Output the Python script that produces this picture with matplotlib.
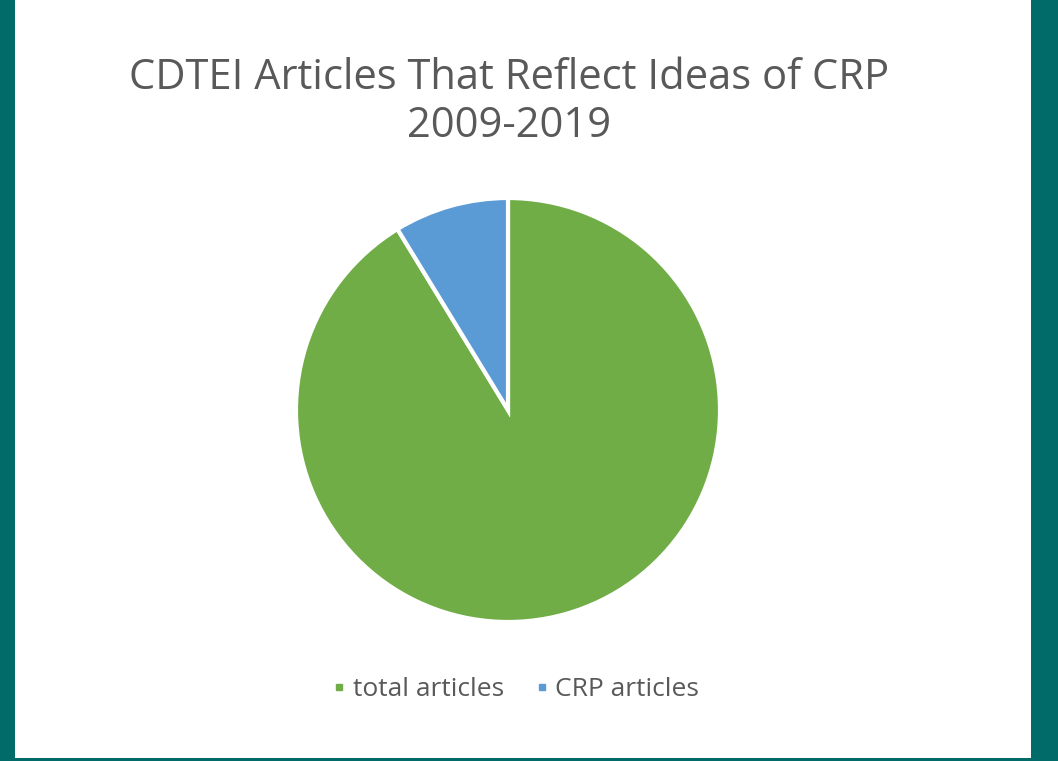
import matplotlib
matplotlib.use("Agg")
import matplotlib.pyplot as plt
import matplotlib.patches as patches
from matplotlib.lines import Line2D

# chart data
labels = ["total articles", "CRP articles"]
counts = [230, 22]
colors = ["#70AD47", "#5B9BD5"]

title = "CDTEI Articles That Reflect Ideas of CRP\n2009-2019"

W, H = 1058, 761
fig = plt.figure(figsize=(W / 100, H / 100), dpi=100)
fig.patch.set_facecolor("#006B68")

# white panel inside the teal frame
fig.patches.append(patches.Rectangle((15 / W, 3 / H), (1031 - 15) / W, (H - 3) / H,
                                     transform=fig.transFigure, facecolor="white",
                                     edgecolor="none", zorder=-1))

# pie axes, centre (508, 410) px, radius 212 px
cx, cy, r = 508, 410, 212
ax = fig.add_axes([(cx - r) / W, (H - cy - r) / H, 2 * r / W, 2 * r / H])
ax.set_zorder(2)
ax.pie(counts, colors=colors, startangle=90, counterclock=False,
       wedgeprops=dict(edgecolor="white", linewidth=3))
ax.set_xlim(-1, 1)
ax.set_ylim(-1, 1)
ax.set_aspect("equal")
ax.axis("off")

fig.text(509 / W, 1 - 102 / H, title, ha="center", va="center",
         fontsize=30, color="#595959", family="Open Sans", linespacing=1.2)

# legend
handles = [Line2D([], [], marker="s", linestyle="none", markersize=5,
                  markerfacecolor=c, markeredgecolor=c) for c in colors]
fig.legend(handles, labels, loc="center", bbox_to_anchor=(516 / W, 1 - 690 / H),
           ncol=2, frameon=False, labelcolor="#595959",
           handlelength=0.5, handletextpad=0.25, columnspacing=1.2,
           prop={"family": "Open Sans", "size": 19})

fig.savefig("out.png", dpi=100, facecolor=fig.get_facecolor())
